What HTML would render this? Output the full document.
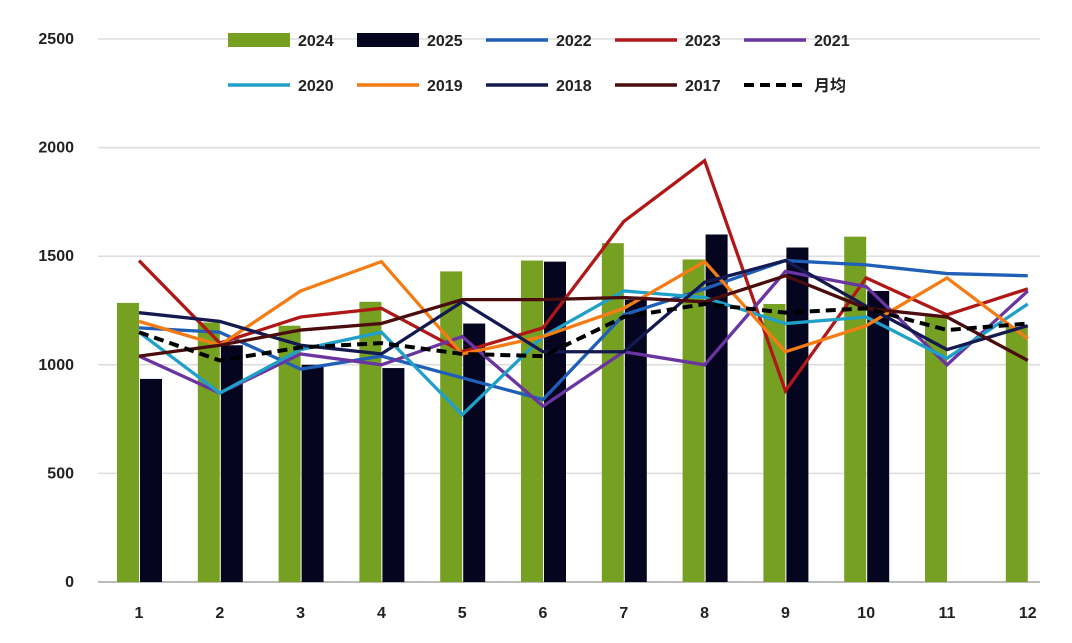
<!DOCTYPE html>
<html><head><meta charset="utf-8"><style>
body{margin:0;background:#fff;width:1072px;height:638px;overflow:hidden}
svg text{font-family:"Liberation Sans","Noto Sans CJK SC",sans-serif;font-weight:bold;font-size:16px;fill:#222}
</style></head><body>
<svg id="c" width="1072" height="638"></svg>
<script>
const months=[1,2,3,4,5,6,7,8,9,10,11,12];
const yTicks=[0,500,1000,1500,2000,2500];
const v2024=[1285,1195,1180,1290,1430,1480,1560,1485,1280,1590,1230,1175];
const v2025=[935,1090,1000,985,1190,1475,1300,1600,1540,1340,null,null];
const v2022=[1170,1150,980,1040,940,840,1230,1350,1480,1460,1420,1410];
const v2023=[1480,1100,1220,1260,1060,1170,1660,1940,880,1400,1230,1350];
const v2021=[1040,870,1050,1000,1130,810,1060,1000,1430,1360,1000,1340];
const v2020=[1150,870,1070,1150,770,1130,1340,1310,1190,1220,1030,1280];
const v2019=[1200,1090,1340,1475,1050,1130,1260,1475,1060,1180,1400,1120];
const v2018=[1240,1200,1090,1050,1290,1060,1060,1380,1480,1270,1070,1180];
const v2017=[1040,1090,1160,1190,1300,1300,1310,1290,1410,1260,1220,1020];
const vAvg=[1150,1020,1080,1100,1050,1040,1220,1280,1240,1260,1160,1190];
const svg=document.getElementById('c');const NS='http://www.w3.org/2000/svg';
const y=v=>582-v*0.2172;const x=i=>139+i*80.8;
function mk(t,a){const e=document.createElementNS(NS,t);for(const k in a)e.setAttribute(k,a[k]);svg.appendChild(e);return e;}
yTicks.forEach(t=>{const g=mk('line',{x1:98,x2:1040,y1:y(t),y2:y(t),stroke:t?'#ddd':'#bbb','stroke-width':t?1.5:2});


const l=mk('text',{x:74,y:y(t)+5,'text-anchor':'end'});l.textContent=t;

});
months.forEach((m,i)=>{const l=mk('text',{x:x(i),y:618,'text-anchor':'middle'});l.textContent=m;

});
v2024.forEach((v,i)=>{if(v==null)return;const r=mk('rect',{x:x(i)-22,y:y(v),width:22,height:582-y(v),fill:'#76a021'});

});
v2025.forEach((v,i)=>{if(v==null)return;const r=mk('rect',{x:x(i)+1,y:y(v),width:22,height:582-y(v),fill:'#050520'});

});
const lines=[['2022',v2022,'#1f5fb8'],['2023',v2023,'#b01818'],['2021',v2021,'#6a35a0'],['2020',v2020,'#1fa0c8'],['2019',v2019,'#f57c14'],['2018',v2018,'#141a50'],['2017',v2017,'#4a0c0c'],['avg',vAvg,'#000']];
lines.forEach(([n,d,c])=>{const p=mk('polyline',{points:d.map((v,i)=>x(i)+','+y(v)).join(' '),fill:'none',stroke:c,'stroke-width':n=='avg'?4:3.3,'stroke-dasharray':n=='avg'?'10,6':'none'});

});
const leg=[['2024','#76a021','bar',228,40],['2025','#050520','bar',357,40],['2022','#1f5fb8','line',486,40],['2023','#b01818','line',615,40],['2021','#6a35a0','line',744,40],
['2020','#1fa0c8','line',228,85],['2019','#f57c14','line',357,85],['2018','#141a50','line',486,85],['2017','#4a0c0c','line',615,85],['月均','#000','dash',744,85]];
leg.forEach(([n,c,t,lx,ly])=>{let s;if(t=='bar')s=mk('rect',{x:lx,y:ly-7,width:62,height:14,fill:c});
else s=mk('line',{x1:lx,x2:lx+62,y1:ly,y2:ly,stroke:c,'stroke-width':t=='dash'?4:3.5,'stroke-dasharray':t=='dash'?'10,6':'none'});


const l=mk('text',{x:lx+70,y:ly+6});l.textContent=n;

});
</script></body></html>
